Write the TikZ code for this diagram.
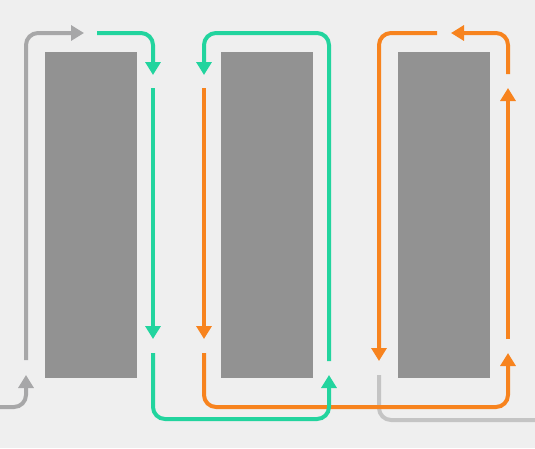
\documentclass[tikz,border=0pt]{standalone}
\usetikzlibrary{arrows.meta}
\definecolor{bgc}{HTML}{EFEFEF}
\definecolor{boxc}{HTML}{929292}
\definecolor{grn}{HTML}{22D49E}
\definecolor{org}{HTML}{F7831E}
\definecolor{gryA}{HTML}{A7A7A8}
\definecolor{gryB}{HTML}{C4C4C4}
\tikzset{
  block/.style={fill=boxc, draw=none, inner sep=0pt, minimum width=92pt, minimum height=326pt, anchor=north west},
  flow/.style={line width=4pt, rounded corners=12pt, -{Triangle[width=15pt,length=13pt]}},
  plain/.style={line width=4pt, rounded corners=12pt}
}
\begin{document}
\begin{tikzpicture}[x=1pt,y=-1pt]
\fill[bgc] (0,0) rectangle (535,448);
\useasboundingbox (0,0) rectangle (535,448);
\node[block] (b1) at (45,52) {};
\node[block] (b2) at (221,52) {};
\node[block] (b3) at (398,52) {};
% gray entry
\draw[flow, gryA] (0,407) -- (26,407) -- (26,375);
\draw[flow, gryA] (26,360) -- (26,33) -- (84,33);
% gray exit (under orange)
\draw[plain, gryB] (379,375) -- (379,420) -- (535,420);
% orange
\draw[flow, org] (204,88) -- (204,339);
\draw[flow, org] (204,353) -- (204,407) -- (508,407) -- (508,353);
\draw[flow, org] (508,339) -- (508,88);
\draw[flow, org] (508,74) -- (508,33) -- (451,33);
\draw[flow, org] (437,33) -- (379,33) -- (379,361);
% green
\draw[flow, grn] (97,33) -- (153,33) -- (153,75);
\draw[flow, grn] (153,88) -- (153,339);
\draw[flow, grn] (153,353) -- (153,419) -- (329,419) -- (329,375);
\draw[flow, grn] (329,361) -- (329,33) -- (204,33) -- (204,75);
\end{tikzpicture}
\end{document}
